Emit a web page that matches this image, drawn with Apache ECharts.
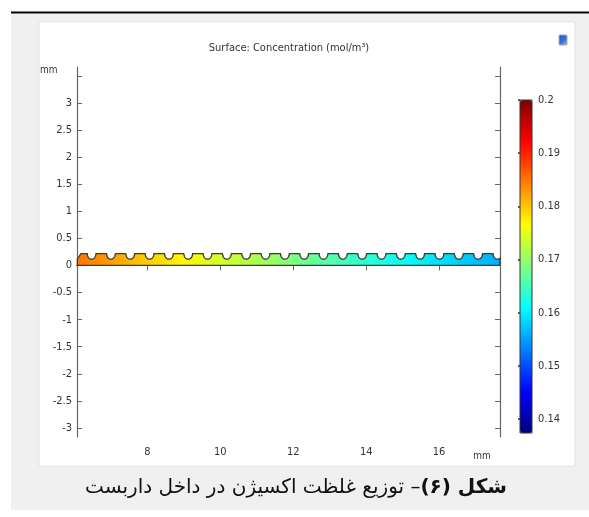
<!DOCTYPE html>
<html><head><meta charset="utf-8">
<script src="https://cdn.jsdelivr.net/npm/echarts@6/dist/echarts.min.js"></script>
<style>html,body{margin:0;padding:0;background:#fff}#c{width:589px;height:517px}</style>
</head><body><div id="c"></div>
<script>
// ---- data ----
const xTicks = [8, 10, 12, 14, 16];
const yTicks = [-3, -2.5, -2, -1.5, -1, -0.5, 0, 0.5, 1, 1.5, 2, 2.5, 3, 3.5];
const yLabels = [-3, -2.5, -2, -1.5, -1, -0.5, 0, 0.5, 1, 1.5, 2, 2.5, 3];
const cbTicks = [0.14, 0.15, 0.16, 0.17, 0.18, 0.19, 0.2];
// concentration sampled along the scaffold (x in mm, c in mol/m3)
const stripX = [6.08, 7, 8, 9, 10, 11, 12, 13, 14, 15, 16, 17, 17.67];
const stripC = [0.185, 0.1825, 0.1795, 0.177, 0.174, 0.1715, 0.1685, 0.166, 0.1635, 0.1615, 0.159, 0.157, 0.156];
// scaffold geometry (mm)
const stripTop = 0.22, notchBottom = 0.115, notchPitch = 0.53, notchFirst = 6.47, notchHalf = 0.12;
const bevelLen = 0.1, bevelLow = 0.12;
const cMin = 0.1374, cMax = 0.2;
const jetColors = ['#00007f', '#0000ff', '#0080ff', '#00ffff', '#80ff80', '#ffff00', '#ff8000', '#ff0000', '#7f0000'];

function hex(c) { return [parseInt(c.slice(1, 3), 16), parseInt(c.slice(3, 5), 16), parseInt(c.slice(5, 7), 16)]; }
function jet(v) {
  let t = (v - cMin) / (cMax - cMin);
  t = Math.max(0, Math.min(1, t));
  const n = jetColors.length - 1;
  const i = Math.min(n - 1, Math.floor(t * n));
  const f = t * n - i;
  const a = hex(jetColors[i]), b = hex(jetColors[i + 1]);
  const r = a.map((q, k) => Math.round(q + (b[k] - q) * f));
  return 'rgb(' + r.join(',') + ')';
}
function topY(x) {
  const x0 = stripX[0];
  if (x < x0 + bevelLen) return bevelLow + (stripTop - bevelLow) * (x - x0) / bevelLen;
  const k = Math.round((x - notchFirst) / notchPitch);
  const c = notchFirst + k * notchPitch;
  const d = Math.abs(x - c);
  if (d < notchHalf) return stripTop - (stripTop - notchBottom) * Math.sqrt(1 - (d / notchHalf) * (d / notchHalf));
  return stripTop;
}

const chart = echarts.init(document.getElementById('c'), null, { renderer: 'canvas' });
const lblFont = 'DejaVu Sans Condensed, DejaVu Sans, sans-serif';
const frame = { show: true, lineStyle: { color: '#666', width: 1.2 } };
const tickStyle = { color: '#666', width: 1 };

const option = {
  animation: false,
  backgroundColor: '#ffffff',
  grid: [
    { left: 77, top: 67, width: 423, height: 370 },
    { left: 520, top: 100, width: 12, height: 333, show: true, borderColor: '#333', borderWidth: 1, backgroundColor: 'transparent', z: 10 }
  ],
  xAxis: [
    { gridIndex: 0, type: 'value', min: 6.07, max: 17.67, position: 'bottom', axisLine: frame, splitLine: { show: false },
      axisTick: { inside: true, length: 5, lineStyle: tickStyle, customValues: xTicks },
      axisLabel: { customValues: xTicks, margin: 10, fontSize: 11, color: '#333', fontFamily: lblFont } },
    { gridIndex: 0, type: 'value', min: 6.07, max: 17.67, position: 'top', axisLine: frame, splitLine: { show: false },
      axisTick: { inside: true, length: 5, lineStyle: tickStyle, customValues: xTicks }, axisLabel: { show: false } },
    { gridIndex: 1, type: 'value', min: 0, max: 1, show: false }
  ],
  yAxis: [
    { gridIndex: 0, type: 'value', min: -3.166, max: 3.663, position: 'left', axisLine: frame, splitLine: { show: false },
      axisTick: { inside: true, length: 5, lineStyle: tickStyle, customValues: yTicks },
      axisLabel: { customValues: yLabels, margin: 5, fontSize: 11, color: '#333', fontFamily: lblFont } },
    { gridIndex: 0, type: 'value', min: -3.166, max: 3.663, position: 'right', axisLine: frame, splitLine: { show: false },
      axisTick: { inside: true, length: 5, lineStyle: tickStyle, customValues: yTicks }, axisLabel: { show: false } },
    { gridIndex: 1, type: 'value', min: cMin, max: cMax, position: 'right', axisLine: { show: false }, splitLine: { show: false },
      axisTick: { inside: true, length: 2, lineStyle: { color: '#333', width: 1.5 }, customValues: cbTicks },
      axisLabel: { customValues: cbTicks, margin: 6, fontSize: 11, color: '#333', fontFamily: lblFont,
        formatter: v => String(+(+v).toFixed(2)) } }
  ],
  visualMap: {
    type: 'continuous', min: cMin, max: cMax, left: 520, top: 100, itemWidth: 12, itemHeight: 333,
    padding: 0, calculable: false, seriesIndex: 1, inRange: { color: jetColors }, textStyle: { color: 'transparent' }
  },
  series: [
    {
      type: 'custom', xAxisIndex: 0, yAxisIndex: 0, clip: false, z: 3,
      data: [[stripX[0], 0]],
      renderItem: function (params, api) {
        const x0 = stripX[0], x1 = stripX[stripX.length - 1];
        const top = [];
        const step = 0.006;
        for (let x = x0; x < x1; x += step) top.push(api.coord([x, topY(x)]));
        top.push(api.coord([x1, topY(x1)]));
        const b0 = api.coord([x0, 0]), b1 = api.coord([x1, 0]);
        const poly = [b0].concat(top, [b1]);
        const outline = [b1, b0].concat(top, [b1]);
        const stops = stripX.map((x, i) => ({ offset: (x - x0) / (x1 - x0), color: jet(stripC[i]) }));
        return {
          type: 'group',
          children: [
            { type: 'polygon', shape: { points: poly },
              style: { fill: new echarts.graphic.LinearGradient(b0[0], 0, b1[0], 0, stops, true), stroke: null } },
            { type: 'polyline', shape: { points: outline },
              style: { fill: null, stroke: '#3d3d2e', lineWidth: 1.3 } }
          ]
        };
      }
    },
    { type: 'scatter', xAxisIndex: 2, yAxisIndex: 2, data: [] }
  ],
  graphic: [
    { type: 'rect', z: -100, silent: true, shape: { x: 11, y: 14, width: 578, height: 496 }, style: { fill: '#f0f0f0' } },
    { type: 'line', z: -99, silent: true, shape: { x1: 11, y1: 12.5, x2: 589, y2: 12.5 }, style: { stroke: '#000', lineWidth: 2 } },
    { type: 'rect', z: -98, silent: true, shape: { x: 39, y: 22, width: 536, height: 444 }, style: { fill: '#ffffff', stroke: '#e2e2e2', lineWidth: 1 } },
    { type: 'rect', z: 5, silent: true, shape: { x: 559, y: 35, width: 8, height: 10, r: 1 },
      style: { fill: new echarts.graphic.LinearGradient(0, 0, 1, 1, [{ offset: 0, color: '#2050c0' }, { offset: 0.6, color: '#3a78d8' }, { offset: 1, color: '#e8d040' }]), stroke: '#9aa8c8', lineWidth: 1 } },
    { type: 'text', z: 5, style: { text: 'Surface: Concentration (mol/m³)', x: 289, y: 48, align: 'center', verticalAlign: 'middle', fontSize: 11, fill: '#333', fontFamily: lblFont } },
    { type: 'text', z: 5, style: { text: 'mm', x: 40, y: 70, align: 'left', verticalAlign: 'middle', fontSize: 10, fill: '#333', fontFamily: lblFont } },
    { type: 'text', z: 5, style: { text: 'mm', x: 482, y: 456, align: 'center', verticalAlign: 'middle', fontSize: 10, fill: '#333', fontFamily: lblFont } },
    { type: 'text', z: 5, style: {
        text: '{n|\u202B– توزیع غلظت اکسیژن در داخل داربست\u202C}{b|\u202Bشکل (۶)\u202C}',
        x: 296, y: 488, align: 'center', verticalAlign: 'middle',
        rich: {
          n: { fontSize: 20, fontWeight: 'normal', fill: '#111', fontFamily: 'DejaVu Sans, sans-serif' },
          b: { fontSize: 20, fontWeight: 'bold', fill: '#111', fontFamily: 'DejaVu Sans, sans-serif' }
        } } }
  ]
};
chart.setOption(option);
</script>
</body></html>
